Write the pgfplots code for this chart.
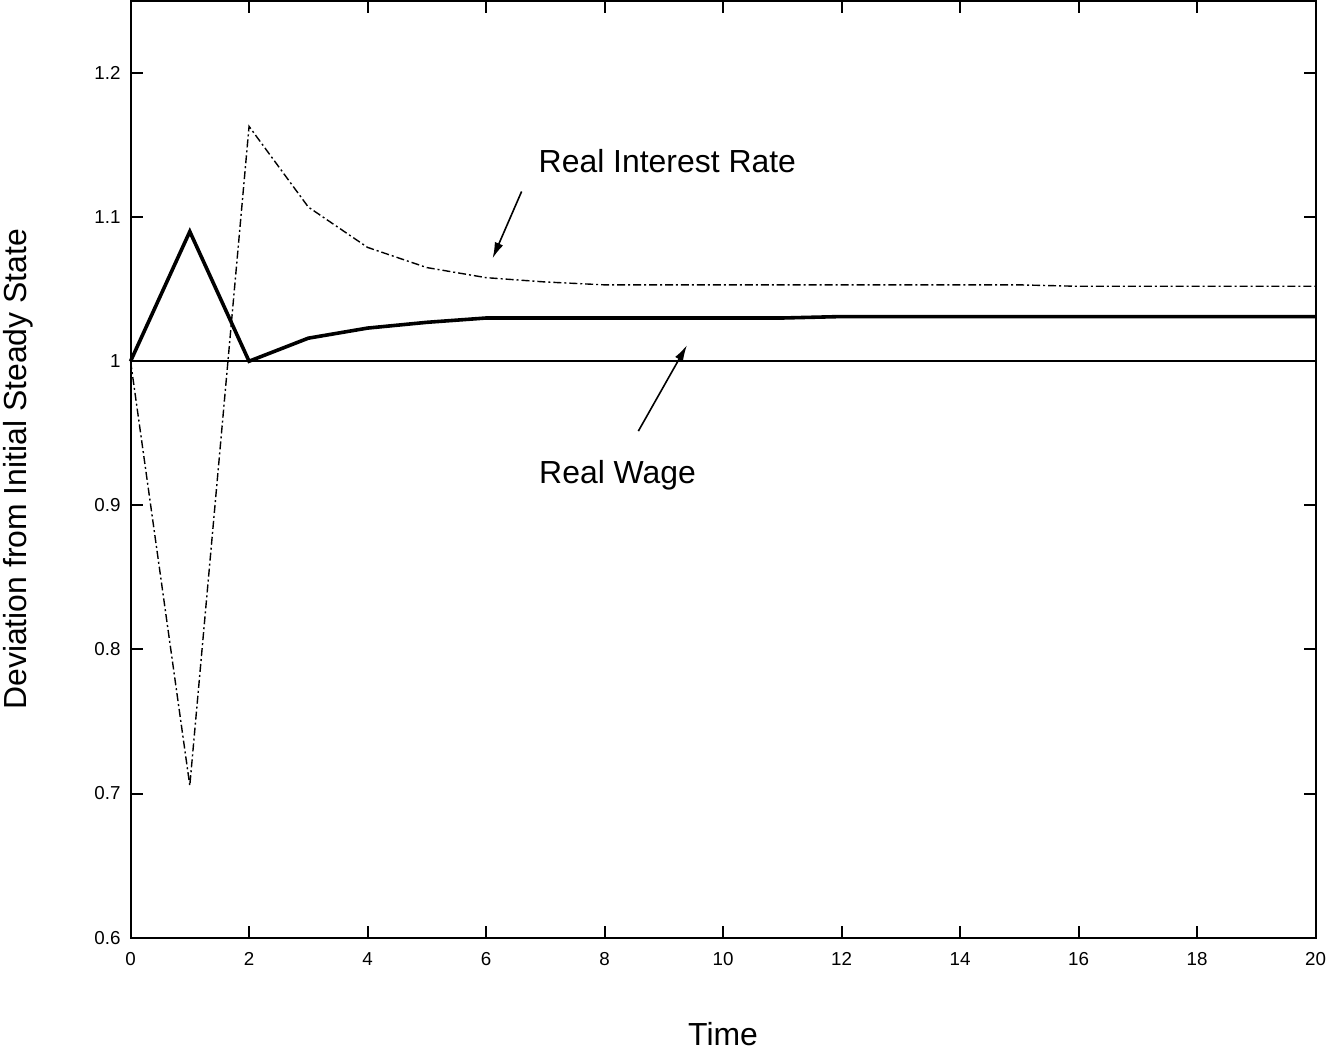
\documentclass[border=0pt]{standalone}
\usepackage{fontspec}
\setmainfont{Liberation Sans}
\usepackage{pgfplots}
\pgfplotsset{compat=1.18}
\usetikzlibrary{arrows.meta}
\begin{document}
\begin{tikzpicture}
\begin{axis}[
  scale only axis,
  width=594pt, height=469.5pt,
  xmin=0, xmax=20, ymin=0.6, ymax=1.25,
  xtick={0,2,...,20},
  ytick={0.6,0.7,0.8,0.9,1,1.1,1.2},
  tick align=inside,
  major tick length=6pt,
  axis line style={line width=1pt},
  every tick/.style={black, line width=1pt},
  /pgf/number format/assume math mode=true,
  /pgf/number format/fixed,
  tick label style={font=\fontsize{9.4}{11}\selectfont},
  xticklabel style={inner sep=0pt, text height=7pt, text depth=0pt, yshift=-7pt},
  yticklabel style={xshift=-1.5pt},
  xlabel={Time},
  ylabel={Deviation from Initial Steady State},
  every axis x label/.style={at={(axis description cs:0.5,-0.115)}, anchor=base, inner sep=1.5pt, text depth=2pt, font=\fontsize{16}{19}\selectfont},
  every axis y label/.style={at={(axis description cs:-0.0951,0.5)}, anchor=center, rotate=90, inner sep=1.5pt, font=\fontsize{16}{19}\selectfont},
  clip=false,
]
% baseline
\addplot[black, line width=1pt] coordinates {(0,1) (20,1)};
% Real Wage
\addplot[black, line width=1.8pt, line join=miter] coordinates {
(0,1) (1,1.09) (2,1.0) (3,1.016) (4,1.023) (5,1.027) (6,1.03) (7,1.03) (8,1.03) (9,1.03) (10,1.03) (11,1.03) (12,1.031) (13,1.031) (14,1.031) (15,1.031) (16,1.031) (17,1.031) (18,1.031) (19,1.031) (20,1.031)};
% Real Interest Rate
\addplot[black, line width=0.7pt, dash pattern=on 4pt off 1.5pt on 1pt off 1.5pt] coordinates {
(0,1) (1,0.7055) (2,1.163) (3,1.107) (4,1.079) (5,1.065) (6,1.058) (7,1.055) (8,1.053) (9,1.053) (10,1.053) (11,1.053) (12,1.053) (13,1.053) (14,1.053) (15,1.053) (16,1.052) (17,1.052) (18,1.052) (19,1.052) (20,1.052)};
\node[font=\fontsize{16}{19}\selectfont] at (axis cs:9.06,1.1386) {Real Interest Rate};
\draw[-{Latex[length=8pt,width=4.5pt]}, line width=0.8pt] (axis cs:6.60,1.1178) -- (axis cs:6.11,1.0714);
\node[font=\fontsize{16}{19}\selectfont] at (axis cs:8.22,0.921) {Real Wage};
\draw[-{Latex[length=8pt,width=4.5pt]}, line width=0.8pt] (axis cs:8.57,0.9515) -- (axis cs:9.39,1.0111);
\end{axis}
\end{tikzpicture}
\end{document}
